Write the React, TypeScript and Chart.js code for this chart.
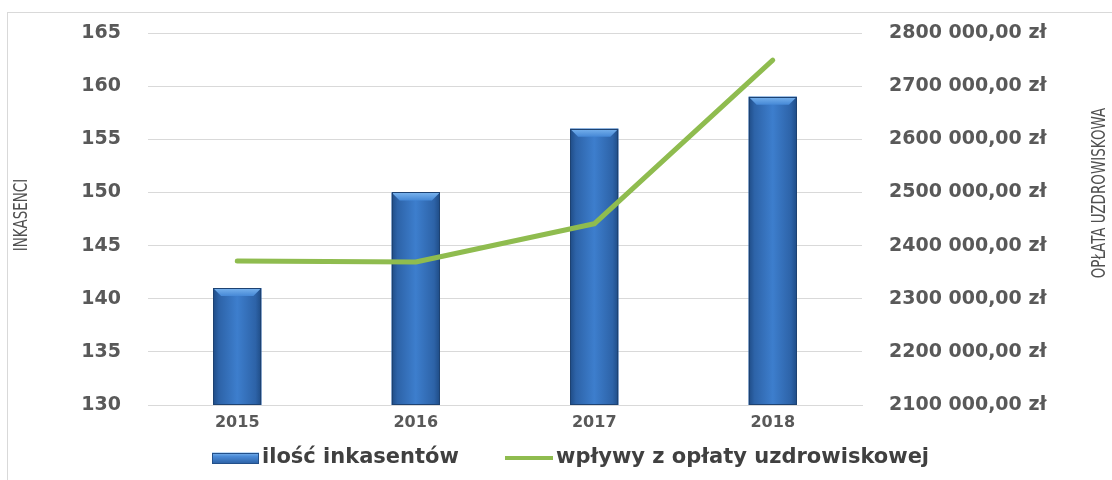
import React, { useEffect, useRef } from "react";
import { Chart, registerables } from "chart.js";

Chart.register(...registerables);

const years: string[] = ["2015", "2016", "2017", "2018"];
const collectors: number[] = [141, 150, 156, 159];
const revenue: number[] = [2371000, 2369000, 2441000, 2749000];
const seriesLabels: string[] = ["ilość inkasentów", "wpływy z opłaty uzdrowiskowej"];
const axisTitles: string[] = ["INKASENCI", "OPŁATA UZDROWISKOWA"];

const TICK_FONT = "'DejaVu Sans', 'Open Sans', sans-serif";
const TITLE_FONT = "'Liberation Sans Narrow', 'DejaVu Sans Condensed', 'Roboto Condensed', 'Liberation Sans', sans-serif";
const TEXT_COLOR = "#595959";
const GREEN = "#8fbc4f";

function fmtZl(v: number): string {
  const th = Math.floor(v / 1000);
  const rest = Math.round(v % 1000);
  return `${th} ${String(rest).padStart(3, "0")},00 zł`;
}

const decorPlugin = {
  id: "decor",
  beforeDraw(chart: any) {
    const ctx = chart.ctx;
    ctx.save();
    ctx.fillStyle = "#ffffff";
    ctx.fillRect(0, 0, chart.width, chart.height);
    ctx.strokeStyle = "#d9d9d9";
    ctx.lineWidth = 1;
    ctx.strokeRect(7.5, 12.5, chart.width + 10, chart.height + 10);
    ctx.restore();
  },
  afterDatasetDraw(chart: any, args: any) {
    if (args.index !== 0) return;
    const ctx = chart.ctx;
    const area = chart.chartArea;
    ctx.save();
    for (const el of args.meta.data) {
      const p = el.getProps(["x", "y", "base", "width"], true);
      const l = p.x - p.width / 2;
      const r = p.x + p.width / 2;
      const t = p.y;
      const b = Math.min(p.base, area.bottom);
      const g = ctx.createLinearGradient(l, 0, r, 0);
      g.addColorStop(0, "#1f4c86");
      g.addColorStop(0.12, "#2d63a8");
      g.addColorStop(0.5, "#3d7ecd");
      g.addColorStop(0.88, "#2d63a8");
      g.addColorStop(1, "#1f4c86");
      ctx.fillStyle = g;
      ctx.fillRect(l, t, r - l, b - t);
      const bv = 8;
      const tg = ctx.createLinearGradient(0, t, 0, t + bv);
      tg.addColorStop(0, "#7ab4ee");
      tg.addColorStop(1, "#4588d6");
      ctx.fillStyle = tg;
      ctx.beginPath();
      ctx.moveTo(l, t);
      ctx.lineTo(r, t);
      ctx.lineTo(r - bv, t + bv);
      ctx.lineTo(l + bv, t + bv);
      ctx.closePath();
      ctx.fill();
      ctx.strokeStyle = "#1d4272";
      ctx.lineWidth = 1;
      ctx.strokeRect(Math.round(l) + 0.5, Math.round(t) + 0.5, Math.round(r - l) - 1, Math.round(b - t) - 1);
    }
    ctx.restore();
  },
  afterDraw(chart: any) {
    const ctx = chart.ctx;
    ctx.save();
    ctx.fillStyle = "#505050";
    ctx.font = `15px ${TITLE_FONT}`;
    ctx.textAlign = "center";
    ctx.textBaseline = "middle";
    ctx.save();
    ctx.translate(22, 215);
    ctx.rotate(-Math.PI / 2);
    ctx.scale(1, 1.3);
    ctx.fillText(axisTitles[0], 0, 0);
    ctx.restore();
    ctx.save();
    ctx.translate(1100, 193);
    ctx.rotate(-Math.PI / 2);
    ctx.scale(1, 1.3);
    ctx.fillText(axisTitles[1], 0, 0);
    ctx.restore();

    const ly = 458;
    const bx = 212, bw = 47, bh = 11;
    const lg = ctx.createLinearGradient(0, ly - bh / 2, 0, ly + bh / 2);
    lg.addColorStop(0, "#82b8ee");
    lg.addColorStop(0.35, "#4a8bd8");
    lg.addColorStop(1, "#2d62a6");
    ctx.fillStyle = lg;
    ctx.fillRect(bx, ly - bh / 2, bw, bh);
    ctx.strokeStyle = "#23508a";
    ctx.lineWidth = 1;
    ctx.strokeRect(bx + 0.5, Math.round(ly - bh / 2) + 0.5, bw - 1, bh - 1);

    ctx.font = `bold 21px ${TICK_FONT}`;
    ctx.fillStyle = "#404040";
    ctx.textAlign = "left";
    ctx.textBaseline = "middle";
    ctx.fillText(seriesLabels[0], 262, ly);

    ctx.strokeStyle = GREEN;
    ctx.lineWidth = 4;
    ctx.lineCap = "butt";
    ctx.beginPath();
    ctx.moveTo(505, ly);
    ctx.lineTo(553, ly);
    ctx.stroke();
    ctx.fillText(seriesLabels[1], 556, ly);
    ctx.restore();
  },
};

export default function App() {
  const ref = useRef<HTMLCanvasElement | null>(null);
  useEffect(() => {
    if (!ref.current) return;
    const chart = new Chart(ref.current, {
      type: "bar",
      data: {
        labels: years,
        datasets: [
          {
            type: "bar",
            label: seriesLabels[0],
            data: collectors,
            yAxisID: "y",
            backgroundColor: "#3a78c6",
            borderWidth: 0,
            categoryPercentage: 1,
            barPercentage: 0.27,
            order: 2,
          } as any,
          {
            type: "line",
            label: seriesLabels[1],
            data: revenue,
            yAxisID: "y1",
            borderColor: GREEN,
            borderWidth: 5,
            pointRadius: 0,
            tension: 0,
            borderCapStyle: "round",
            borderJoinStyle: "round",
            order: 1,
          } as any,
        ],
      },
      options: {
        animation: false,
        responsive: false,
        maintainAspectRatio: false,
        devicePixelRatio: 1,
        layout: { padding: { top: 33, left: 0, right: 0, bottom: 0 } },
        plugins: { legend: { display: false }, tooltip: { enabled: false } },
        scales: {
          x: {
            grid: { display: false, drawTicks: false },
            border: { display: true, color: "#d9d9d9", width: 1 },
            ticks: { color: TEXT_COLOR, font: { family: TICK_FONT, size: 16, weight: "bold" }, padding: 8 },
            afterFit: (s: any) => { s.height = 75; },
          },
          y: {
            position: "left",
            min: 130,
            max: 165,
            ticks: {
              stepSize: 5,
              padding: 3,
              color: TEXT_COLOR,
              font: { family: TICK_FONT, size: 19, weight: "bold" },
            },
            grid: { color: "#d9d9d9", drawTicks: true, tickLength: 24, tickColor: "rgba(0,0,0,0)", lineWidth: 1 },
            border: { display: false },
            afterFit: (s: any) => { s.width = 148; },
          },
          y1: {
            position: "right",
            min: 2100000,
            max: 2800000,
            ticks: {
              stepSize: 100000,
              padding: 3,
              color: TEXT_COLOR,
              font: { family: TICK_FONT, size: 19, weight: "bold" },
              callback: (v: any) => fmtZl(Number(v)),
            },
            grid: { display: true, drawOnChartArea: false, drawTicks: true, tickLength: 24, tickColor: "rgba(0,0,0,0)" },
            border: { display: false },
            afterFit: (s: any) => { s.width = 250; },
          },
        },
      } as any,
      plugins: [decorPlugin],
    });
    return () => chart.destroy();
  }, []);
  return (
    <div style={{ position: "absolute", left: 0, top: 0, width: 1112, height: 480 }}>
      <canvas ref={ref} width={1112} height={480} style={{ width: 1112, height: 480, display: "block" }} />
    </div>
  );
}
